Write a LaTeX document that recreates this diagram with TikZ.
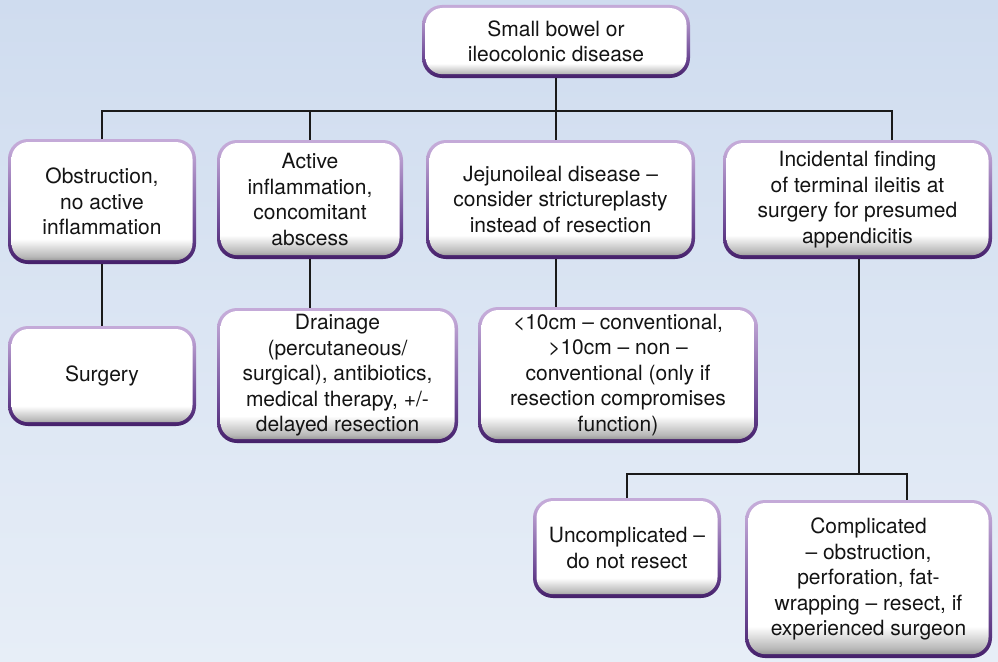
\documentclass[tikz,border=0pt]{standalone}
\usepackage{fontspec}
\setmainfont{TeX Gyre Heros}
\definecolor{bgtop}{HTML}{CFDCEF}
\definecolor{bgbot}{HTML}{E7EEF7}
\definecolor{rimlight}{HTML}{C4AAD8}
\definecolor{rimmid}{HTML}{6E4A96}
\definecolor{rimdark}{HTML}{45206A}
\definecolor{linecol}{HTML}{1A1A1A}
\pgfdeclareverticalshading{rimshade}{100bp}{color(0bp)=(rimdark); color(25bp)=(rimdark); color(40bp)=(rimmid); color(72bp)=(rimlight); color(100bp)=(rimlight)}
\pgfdeclareverticalshading{fillshade}{100bp}{color(0bp)=(black!50); color(25bp)=(black!50); color(28bp)=(black!28); color(35bp)=(white); color(100bp)=(white)}
\begin{document}
\begin{tikzpicture}[x=1pt,y=-1pt,
  pbox/.style={shade, shading=rimshade, rounded corners=20pt, inner sep=0pt, outer sep=0pt,
    align=center, text=black!92, font=\fontsize{21}{25.5}\selectfont,
    path picture={\shade[shading=fillshade, rounded corners=17pt]
      ([xshift=3.5pt,yshift=3.8pt]path picture bounding box.south west) rectangle
      ([xshift=-3.5pt,yshift=-3pt]path picture bounding box.north east);}},
  conn/.style={draw=linecol, line width=1.1pt}]
\shade[top color=bgtop, bottom color=bgbot] (0,0) rectangle (998,661);
\useasboundingbox (0,0) rectangle (998,661);

\node[pbox, minimum width=268pt, minimum height=73pt] (top) at (556,41.5) {Small bowel or\\ileocolonic disease};

\node[pbox, minimum width=188pt, minimum height=125pt] (b1) at (102,201.5) {Obstruction,\\no active\\inflammation};
\node[pbox, minimum width=186pt, minimum height=119pt] (b2) at (310,199.5) {Active\\inflammation,\\concomitant\\abscess};
\node[pbox, minimum width=269pt, minimum height=119pt] (b3) at (560.5,199.5) {Jejunoileal disease –\\consider strictureplasty\\instead of resection};
\node[pbox, minimum width=269pt, minimum height=119pt] (b4) at (857.5,199.5) {Incidental finding\\of terminal ileitis at\\surgery for presumed\\appendicitis};

\node[pbox, minimum width=188pt, minimum height=100pt] (surgery) at (102,376) {Surgery};
\node[pbox, minimum width=241pt, minimum height=135pt] (drain) at (337.5,375.5) {Drainage\\(percutaneous/\\surgical), antibiotics,\\medical therapy, +/-\\delayed resection};
\node[pbox, minimum width=280pt, minimum height=136pt] (tencm) at (618,375) {<10cm – conventional,\\>10cm – non –\\conventional (only if\\resection compromises\\function)};

\node[pbox, minimum width=188pt, minimum height=100pt] (uncomp) at (627,548) {Uncomplicated –\\do not resect};
\node[pbox, minimum width=247pt, minimum height=158pt] (comp) at (868.5,579) {Complicated\\– obstruction,\\perforation, fat-\\wrapping – resect, if\\experienced surgeon};

\coordinate (bus) at (556,111);
\coordinate (bus2) at (859,474);

\draw[conn] (top.south) -- (bus);
\draw[conn] (b1.north) |- (bus);
\draw[conn] (b2.north) |- (bus);
\draw[conn] (b3.north -| bus) -- (bus);
\draw[conn] ([xshift=34.5pt]b4.north) |- (bus);

\draw[conn] (b1.south) -- (surgery.north);
\draw[conn] (b2.south) -- (b2.south |- drain.north);
\draw[conn] (b3.south -| bus) -- (tencm.north -| bus);

\draw[conn] (b4.south -| bus2) -- (bus2);
\draw[conn] (uncomp.north) |- (bus2);
\draw[conn] ([xshift=38.5pt]comp.north) |- (bus2);
\end{tikzpicture}
\end{document}
